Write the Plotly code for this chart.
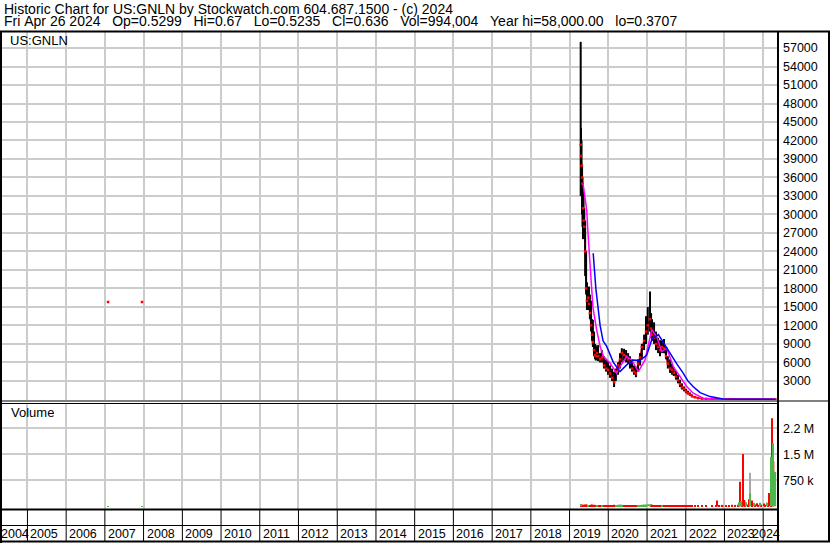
import plotly.graph_objects as go

W, H = 830, 543
FONT = "Liberation Sans, Arial, sans-serif"

# ---- price history as plotted (split adjusted) ----
dates = [
    "2019-04-16", "2019-04-19", "2019-04-24", "2019-04-29", "2019-05-03", "2019-05-08",
    "2019-05-13", "2019-05-20", "2019-05-28", "2019-06-06", "2019-06-14", "2019-06-24",
    "2019-07-03", "2019-07-12", "2019-07-23", "2019-08-01", "2019-08-09", "2019-08-20",
    "2019-08-29", "2019-09-06", "2019-09-17", "2019-09-27", "2019-10-16", "2019-11-01",
    "2019-11-22", "2019-12-11", "2019-12-30", "2020-01-17", "2020-02-06", "2020-02-25",
    "2020-03-13", "2020-04-02", "2020-04-21", "2020-05-08", "2020-05-29", "2020-06-17",
    "2020-07-06", "2020-07-24", "2020-08-12", "2020-08-31", "2020-09-18", "2020-10-08",
    "2020-10-27", "2020-11-13", "2020-12-04", "2020-12-22", "2021-01-08", "2021-01-29",
    "2021-02-08", "2021-02-17", "2021-03-08", "2021-03-26", "2021-04-15", "2021-05-03",
    "2021-05-21", "2021-06-10", "2021-06-29", "2021-07-16", "2021-08-06", "2021-08-25",
    "2021-09-10", "2021-10-01", "2021-10-20", "2021-11-08", "2021-11-26", "2021-12-16",
    "2022-01-04", "2022-01-21", "2022-02-10", "2022-03-01", "2022-03-29", "2022-04-27",
    "2022-06-03", "2022-07-11", "2022-09-06", "2022-10-14", "2022-11-15", "2022-12-15",
    "2023-01-17", "2023-02-15", "2023-03-15", "2023-04-14", "2023-05-15", "2023-06-15",
    "2023-07-14", "2023-08-15", "2023-09-15", "2023-10-16", "2023-11-15", "2023-12-15",
    "2024-01-16", "2024-02-15", "2024-03-15", "2024-04-26",
]
high = [
    58000, 44000, 42000, 38000, 36000, 35000, 33000, 31000, 29000, 24000, 19000, 18000,
    18300, 17000, 16000, 13000, 12900, 11000, 9000, 8800, 8500, 8800, 7500, 8000,
    7000, 6500, 6200, 5500, 5000, 4500, 5000, 6000, 7500, 8300, 8200, 8000,
    7500, 7000, 6500, 5500, 5200, 6500, 7500, 9000, 10500, 13500, 15000, 17500,
    14000, 13000, 12500, 11000, 10000, 9600, 9500, 9800, 8500, 7000, 6500, 5800,
    5200, 4600, 4000, 3200, 2600, 2100, 1700, 1400, 1100, 800, 500, 300,
    200, 100, 60, 45, 35, 30, 25, 20, 15, 12, 10, 8,
    6, 5, 4, 3, 2.5, 2, 1.5, 1.2, 1.0, 0.67,
]
low = [
    33000, 35000, 34000, 30000, 28000, 26000, 27000, 26000, 20000, 17000, 14500, 14800,
    14500, 13000, 11000, 9500, 8500, 7000, 6500, 6300, 6500, 6200, 6000, 6000,
    5000, 4500, 4000, 3500, 3000, 2000, 3000, 4000, 5000, 6000, 6300, 6000,
    5800, 5000, 4500, 4000, 3600, 4500, 5500, 6500, 8000, 9000, 10500, 11000,
    10000, 9500, 9000, 8000, 7500, 7000, 7500, 7500, 6500, 5000, 4300, 4000,
    3800, 3200, 2600, 2000, 1600, 1300, 1000, 800, 600, 400, 250, 150,
    100, 50, 30, 25, 20, 15, 12, 10, 8, 5, 4, 3,
    2, 2, 1.5, 1.2, 1, 0.8, 0.6, 0.5, 0.45, 0.5235,
]
close = [
    41300, 39500, 37900, 36000, 35000, 31000, 29000, 28000, 24000, 18000, 16000, 16500,
    15500, 14000, 12000, 10500, 9300, 8000, 7200, 7000, 7500, 7000, 6500, 6800,
    5500, 5000, 4800, 4200, 3500, 2800, 4500, 5500, 6500, 7500, 7200, 7000,
    6500, 6000, 5000, 4500, 4200, 5800, 6800, 8500, 9500, 11000, 12000, 13000,
    11500, 10500, 10000, 9000, 8500, 8000, 8500, 8300, 7000, 5800, 5000, 4800,
    4300, 3700, 3100, 2500, 2000, 1700, 1300, 1000, 800, 500, 350, 200,
    120, 70, 45, 35, 28, 22, 18, 14, 10, 8, 6, 5,
    4, 3, 2.5, 2, 1.5, 1.2, 1, 0.8, 0.6, 0.636,
]
volume = [
    60000, 50000, 45000, 40000, 40000, 45000, 40000, 35000, 50000, 55000, 45000, 40000,
    35000, 40000, 45000, 50000, 40000, 45000, 35000, 30000, 35000, 30000, 30000, 35000,
    30000, 35000, 30000, 35000, 40000, 45000, 40000, 45000, 50000, 45000, 40000, 35000,
    35000, 30000, 35000, 30000, 35000, 40000, 40000, 45000, 50000, 55000, 60000, 60000,
    50000, 45000, 40000, 40000, 35000, 35000, 30000, 35000, 30000, 35000, 30000, 30000,
    35000, 30000, 35000, 30000, 35000, 30000, 35000, 30000, 35000, 30000, 35000, 30000,
    35000, 30000, 35000, 40000, 35000, 40000, 35000, 40000, 45000, 40000, 45000, 50000,
    45000, 50000, 45000, 50000, 45000, 50000, 45000, 50000, 55000, 994004,
]

# isolated trades in 2007
early_dates = ["2007-01-31", "2007-12-17"]
early_close = [15800, 15800]
early_volume = [8000, 8000]

# moving averages as drawn
ma_fast_dates = [
    "2019-05-08", "2019-05-27", "2019-06-12", "2019-06-22", "2019-07-12", "2019-08-09",
    "2019-09-13", "2019-10-16", "2019-11-17", "2020-01-17", "2020-03-20", "2020-04-21",
    "2020-06-23", "2020-08-09", "2020-10-11", "2020-12-13", "2021-02-14", "2021-04-02",
    "2021-05-19", "2021-07-05", "2021-09-06", "2021-11-08", "2022-01-10", "2022-03-13",
    "2022-06-16", "2022-10-15", "2023-06-15", "2024-04-26",
]
ma_fast = [
    35000, 33000, 30700, 27500, 22600, 15000, 11300, 8600, 6950, 5900, 4250, 5300,
    6950, 6400, 4500, 6400, 11300, 10200, 7750, 8300, 5300, 3700, 2100, 1000,
    200, 50, 10, 1,
]
ma_slow_dates = [
    "2019-08-12", "2019-09-06", "2019-10-16", "2019-11-13", "2019-12-17", "2020-02-18",
    "2020-04-21", "2020-06-23", "2020-08-25", "2020-10-27", "2020-12-29", "2021-02-17",
    "2021-04-18", "2021-06-10", "2021-08-06", "2021-10-07", "2021-12-06", "2022-01-21",
    "2022-03-11", "2022-05-16", "2022-08-18", "2022-12-18", "2023-05-28", "2024-04-26",
]
ma_slow = [
    23700, 18000, 12000, 9500, 8600, 6000, 4500, 5600, 6400, 6300, 7200, 9800,
    10500, 9000, 7500, 5800, 4300, 3000, 2100, 1100, 450, 80, 30, 20,
]

# larger volume days
spike_dates = [
    "2022-10-20", "2023-05-20", "2023-05-27", "2023-06-10", "2023-06-24", "2023-07-10",
    "2023-07-25", "2023-08-20", "2023-08-29", "2023-09-02", "2023-09-15", "2023-10-10",
    "2023-11-05", "2023-12-01", "2024-01-10", "2024-02-05", "2024-02-28", "2024-03-12",
    "2024-03-24", "2024-03-31", "2024-04-09",
]
spike_volume = [
    170000, 120000, 710000, 150000, 1510000, 180000, 120000, 200000, 970000, 375000,
    170000, 100000, 90000, 100000, 80000, 110000, 380000, 1430000, 2540000, 1820000,
    1290000,
]
spike_dir = [
    "down", "up", "down", "up", "down", "down", "up", "down", "flat", "up", "down", "up",
    "down", "up", "down", "up", "down", "up", "down", "up", "down",
]

years = list(range(2004, 2025))
price_ticks = list(range(3000, 57001, 3000))
vol_ticks = [750000, 1500000, 2250000]
vol_tick_text = ["750 k", "1.5 M", "2.2 M"]
x_start, x_end = "2004-04-17", "2024-05-20"

header1 = "Historic Chart for US:GNLN by Stockwatch.com 604.687.1500 - (c) 2024"
header2 = ("Fri Apr 26 2024   Op=0.5299   Hi=0.67   Lo=0.5235   Cl=0.636   "
           "Vol=994,004   Year hi=58,000.00   lo=0.3707").replace(" ", "\u00a0")


def px(x):
    return x / W


def py(y):
    return (H - y) / H


GREEN, RED, GRAY = "#4cb84c", "#ff0000", "#a8a8a8"

# volume colour per day from close to close
vol_dir = ["up"] + ["up" if c > p else "down" for p, c in zip(close[:-1], close[1:])]
all_vdates = early_dates + dates + spike_dates
all_vol = early_volume + volume + spike_volume
all_dir = ["up", "up"] + vol_dir + spike_dir

fig = go.Figure()

# close line under the bars (forms the flat line at the end)
fig.add_trace(go.Scatter(x=dates, y=close, mode="lines",
                         line=dict(color=RED, width=1.5), yaxis="y"))

bx, by = [], []
for d, lo_, hi_ in zip(dates, low, high):
    bx += [d, d, None]
    by += [lo_, hi_, None]
fig.add_trace(go.Scatter(x=bx, y=by, mode="lines", line=dict(color="black", width=2),
                         yaxis="y"))
fig.add_trace(go.Scatter(x=dates + early_dates, y=close + early_close, mode="markers",
                         marker=dict(color=RED, size=2.5, symbol="square", line=dict(width=0)),
                         yaxis="y"))
fig.add_trace(go.Scatter(x=ma_fast_dates, y=ma_fast, mode="lines",
                         line=dict(color="#ff00ff", width=1.5), yaxis="y"))
fig.add_trace(go.Scatter(x=ma_slow_dates, y=ma_slow, mode="lines",
                         line=dict(color="#0000ff", width=1.5), yaxis="y"))

for kind, col in (("flat", GRAY), ("down", RED), ("up", GREEN)):
    xs = [d for d, k in zip(all_vdates, all_dir) if k == kind]
    vs = [v for v, k in zip(all_vol, all_dir) if k == kind]
    fig.add_trace(go.Bar(x=xs, y=vs, marker=dict(color=col, line=dict(width=0)),
                         width=86400000 * 13, yaxis="y2"))

grid = "#cccccc"
tickfont = dict(size=12.5, family=FONT, color="black")
fig.update_layout(
    width=W, height=H,
    margin=dict(l=0, r=0, t=0, b=0),
    paper_bgcolor="white", plot_bgcolor="white",
    showlegend=False, barmode="overlay", hovermode=False,
    font=dict(family=FONT, color="black", size=13),
    xaxis=dict(domain=[0, px(778)], range=[x_start, x_end], type="date",
               tick0="2005-01-01", dtick="M12", showgrid=True, gridcolor=grid,
               gridwidth=1.5, showticklabels=False, ticks="", zeroline=False,
               showline=False, anchor="y2"),
    yaxis=dict(domain=[py(400), py(32)], range=[-100, 59600], side="right",
               anchor="x", tickvals=price_ticks, ticktext=[str(v) for v in price_ticks],
               showgrid=True, gridcolor=grid, gridwidth=1.5, zeroline=False, ticks="",
               showline=False, ticklabelstandoff=4, tickfont=tickfont),
    yaxis2=dict(domain=[py(510), py(403)], range=[-107000, 2980000], side="right",
                anchor="x", tickvals=vol_ticks, ticktext=vol_tick_text, showgrid=True,
                gridcolor=grid, gridwidth=1.5, zeroline=False, ticks="", showline=False,
                ticklabelstandoff=4, tickfont=tickfont),
)

shapes = []


def hline(y, x0, x1, w=1):
    shapes.append(dict(type="line", xref="paper", yref="paper", x0=px(x0), x1=px(x1),
                       y0=py(y), y1=py(y), line=dict(color="black", width=w)))


def vline(x, y0, y1, w=1):
    shapes.append(dict(type="line", xref="paper", yref="paper", x0=px(x), x1=px(x),
                       y0=py(y0), y1=py(y1), line=dict(color="black", width=w)))


hline(31.5, 0, 830, 2)
hline(401, 0, 830, 1)
hline(403.5, 0, 778, 1)
hline(509.5, 0, 778, 2)
hline(525.5, 0, 778, 1)
hline(541.5, 0, 830, 2)
vline(1, 31, 543, 2)
vline(778, 31, 542, 2)
vline(829, 31, 542, 2)
for yr in years[1:]:
    shapes.append(dict(type="line", xref="x", yref="paper", x0=f"{yr}-01-01",
                       x1=f"{yr}-01-01", y0=py(510), y1=py(541),
                       line=dict(color="black", width=1)))

ann = [
    dict(text=header1, x=px(2), y=py(9), font=dict(size=14)),
    dict(text=header2, x=px(2), y=py(21.5), font=dict(size=14)),
    dict(text="US:GNLN", x=px(8), y=py(40.5)),
    dict(text="Volume", x=px(9), y=py(413)),
]
for a in ann:
    a.update(xref="paper", yref="paper", xanchor="left", yanchor="middle",
             showarrow=False)
for i, yr in enumerate(years):
    a = dict(text=str(yr), yref="paper", y=py(534), yanchor="middle", showarrow=False,
             font=dict(size=12.5))
    if i == 0:
        a.update(xref="paper", x=0, xanchor="left", xshift=-1)
    elif i == len(years) - 1:
        a.update(xref="paper", x=px(782), xanchor="right")
    else:
        a.update(xref="x", x=f"{yr}-01-01", xanchor="left", xshift=1)
    ann.append(a)

fig.update_layout(shapes=shapes, annotations=ann)
fig.write_html("out.html", config={"displayModeBar": False},
               post_script="document.body.style.margin='0';")
